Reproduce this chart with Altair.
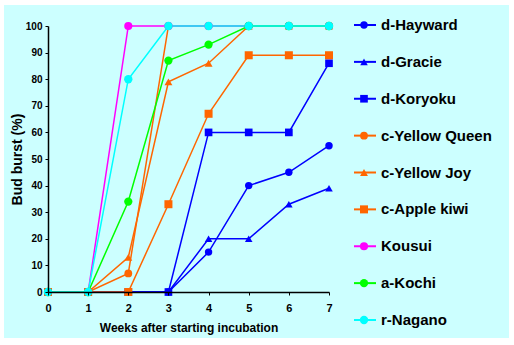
import altair as alt
import pandas as pd

weeks = [0, 1, 2, 3, 4, 5, 6, 7]
series_names = ["d-Hayward", "d-Gracie", "d-Koryoku", "c-Yellow Queen", "c-Yellow Joy",
                "c-Apple kiwi", "Kousui", "a-Kochi", "r-Nagano"]
hayward = [0, 0, 0, 0, 15, 40, 45, 55]
gracie = [0, 0, 0, 0, 20, 20, 33, 39]
koryoku = [0, 0, 0, 0, 60, 60, 60, 86]
yellow_queen = [0, 0, 7, 100, 100, 100, 100, 100]
yellow_joy = [0, 0, 13, 79, 86, 100, 100, 100]
apple_kiwi = [0, 0, 0, 33, 67, 89, 89, 89]
kousui = [0, 0, 100, 100, 100, 100, 100, 100]
kochi = [0, 0, 34, 87, 93, 100, 100, 100]
nagano = [0, 0, 80, 100, 100, 100, 100, 100]
y_ticks = [0, 10, 20, 30, 40, 50, 60, 70, 80, 90, 100]

colors = ["#0000FF", "#0000FF", "#0000FF", "#FF6600", "#FF6600", "#FF6600",
          "#FF00FF", "#00FF00", "#00FFFF"]
shapes = ["circle", "triangle-up", "square", "circle", "triangle-up", "square",
          "circle", "circle", "circle"]
sizes = [55, 70, 95, 55, 70, 95, 60, 60, 18]
widths = [1.5, 1.5, 2.5, 2.5, 2, 1.5, 2.5, 2, 2]

values = [hayward, gracie, koryoku, yellow_queen, yellow_joy, apple_kiwi, kousui, kochi, nagano]
rows = []
for i, (name, vals) in enumerate(zip(series_names, values)):
    for w, v in zip(weeks, vals):
        rows.append({"series": name, "week": w, "burst": v, "order": i})
df = pd.DataFrame(rows)
leg = pd.DataFrame({"series": series_names, "order": list(range(len(series_names)))})

color_scale = alt.Scale(domain=series_names, range=colors)
shape_scale = alt.Scale(domain=series_names, range=shapes)
size_scale = alt.Scale(domain=series_names, range=sizes)
width_scale = alt.Scale(domain=series_names, range=widths)

FONT = "Liberation Sans"

bg = alt.Chart(pd.DataFrame({"a": [0]})).mark_rect(color="#CCFFFF").encode(
    x=alt.value(-44), x2=alt.value(461), y=alt.value(-21), y2=alt.value(312)
)

x_axis = alt.Axis(values=weeks, format="d", title="Weeks after starting incubation",
                  grid=False, tickSize=3, labelPadding=7, titlePadding=9, zindex=1,
                  labelFlush=False, labelOverlap=False)
y_axis = alt.Axis(values=y_ticks, tickCount=11, title="Bud burst (%)",
                  grid=False, tickSize=3, labelPadding=3, titlePadding=1, zindex=1,
                  labelFlush=False, labelOverlap=False)
x_scale = alt.Scale(domain=[0, 7], nice=False)
y_scale = alt.Scale(domain=[0, 100], nice=False)

lines = alt.Chart(df).mark_line().encode(
    x=alt.X("week:Q", scale=x_scale, axis=x_axis),
    y=alt.Y("burst:Q", scale=y_scale, axis=y_axis),
    color=alt.Color("series:N", scale=color_scale, legend=None),
    strokeWidth=alt.StrokeWidth("series:N", scale=width_scale, legend=None),
    detail="series:N",
)
points = alt.Chart(df).mark_point(filled=True, opacity=1).encode(
    x=alt.X("week:Q", scale=x_scale, axis=x_axis),
    y=alt.Y("burst:Q", scale=y_scale, axis=y_axis),
    color=alt.Color("series:N", scale=color_scale, legend=None),
    shape=alt.Shape("series:N", scale=shape_scale, legend=None),
    size=alt.Size("series:N", scale=size_scale, legend=None),
    order="order:Q",
)

leg_y = alt.Y("series:N", scale=alt.Scale(type="point", domain=series_names, range=[-1, 294], padding=0),
              axis=None)
leg_rule = alt.Chart(leg).mark_rule(strokeWidth=2).encode(
    x=alt.value(306), x2=alt.value(328), y=leg_y,
    color=alt.Color("series:N", scale=color_scale, legend=None),
)
leg_pt = alt.Chart(leg).mark_point(filled=True, opacity=1).encode(
    x=alt.value(316), y=leg_y,
    color=alt.Color("series:N", scale=color_scale, legend=None),
    shape=alt.Shape("series:N", scale=shape_scale, legend=None),
    size=alt.Size("series:N", scale=size_scale, legend=None),
)
leg_txt = alt.Chart(leg).mark_text(align="left", baseline="middle", font=FONT, fontSize=15,
                                   fontWeight="bold", color="black").encode(
    x=alt.value(333), y=leg_y, text="series:N"
)

legend_layer = alt.layer(leg_rule, leg_pt, leg_txt)
main = alt.layer(bg, lines, points)

chart = alt.layer(main, legend_layer).resolve_scale(y="independent").properties(
    width=281, height=266,
    autosize=alt.AutoSizeParams(type="none"),
    padding={"left": 48, "top": 26, "right": 185, "bottom": 53},
    background="white",
).configure_view(stroke=None).configure_axis(
    labelFont=FONT, titleFont=FONT, labelFontWeight="bold", titleFontWeight="bold",
    labelColor="black", titleColor="black", domainColor="black", tickColor="black",
    domainWidth=1.5, labelFontSize=10, titleFontSize=12,
).configure_axisY(titleFontSize=14).configure_axisX(labelFontSize=11)

chart.save("out.html", embed_options={"renderer": "svg", "actions": False})
